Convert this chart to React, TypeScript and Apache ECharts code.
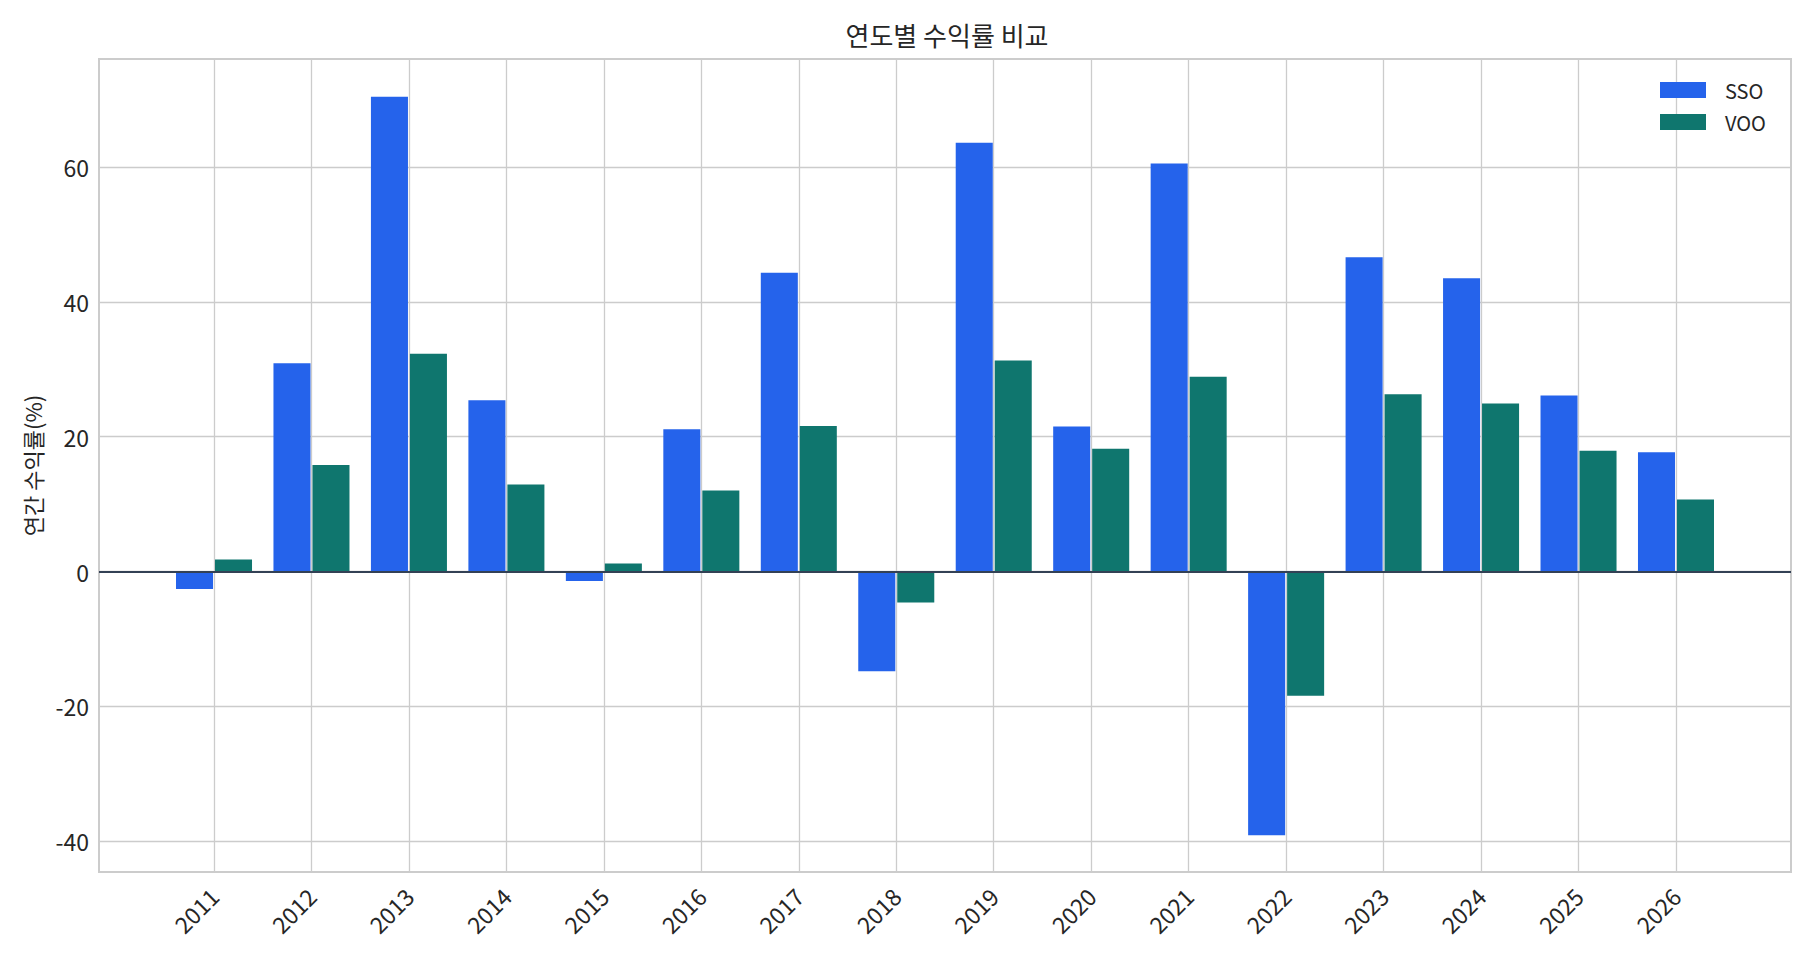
import React, { useEffect, useRef } from "react";
import * as echarts from "echarts";

const years = [2011, 2012, 2013, 2014, 2015, 2016, 2017, 2018, 2019, 2020, 2021, 2022, 2023, 2024, 2025, 2026];
const ssoReturns = [-2.6, 30.9, 70.4, 25.4, -1.4, 21.1, 44.3, -14.8, 63.6, 21.5, 60.5, -39.1, 46.6, 43.5, 26.1, 17.7];
const vooReturns = [1.8, 15.8, 32.3, 12.9, 1.2, 12.0, 21.6, -4.6, 31.3, 18.2, 28.9, -18.4, 26.3, 24.9, 17.9, 10.7];
const yTicks = [-40, -20, 0, 20, 40, 60];

const FONT = "'Noto Sans CJK KR', 'Noto Sans', sans-serif";
const BAR_W = 0.38;
const SSO_COLOR = "#2563eb";
const VOO_COLOR = "#0f766e";

function barSeries(name: string, values: number[], offset: number, color: string) {
  return {
    name,
    type: "custom",
    coordinateSystem: "cartesian2d",
    encode: { x: 0, y: 1 },
    itemStyle: { color },
    data: years.map((y, i) => [y + offset, values[i]]),
    renderItem: (_params: any, api: any) => {
      const cx = api.value(0);
      const v = api.value(1);
      const a = api.coord([cx - BAR_W / 2, v]);
      const b = api.coord([cx + BAR_W / 2, 0]);
      return {
        type: "rect",
        shape: {
          x: a[0],
          y: Math.min(a[1], b[1]),
          width: b[0] - a[0],
          height: Math.abs(b[1] - a[1]),
        },
        style: { fill: color },
      };
    },
  };
}

export default function App() {
  const ref = useRef<HTMLDivElement>(null);
  useEffect(() => {
    if (!ref.current) return;
    const chart = echarts.init(ref.current, null, { renderer: "svg" });
    chart.setOption({
      animation: false,
      backgroundColor: "#ffffff",
      title: {
        text: "연도별 수익률 비교",
        left: 942,
        textAlign: "center",
        top: 16,
        textStyle: { fontFamily: FONT, fontSize: 26, fontWeight: "normal", color: "#262626" },
      },
      legend: {
        orient: "vertical",
        left: 1655,
        top: 75,
        itemWidth: 46,
        itemHeight: 16,
        itemGap: 12,
        icon: "rect",
        data: ["SSO", "VOO"],
        textStyle: { fontFamily: FONT, fontSize: 20, color: "#262626", padding: [0, 0, 0, 14] },
      },
      grid: {
        left: 99,
        top: 59,
        right: 24,
        bottom: 85,
        show: true,
        borderColor: "#cccccc",
        borderWidth: 2,
        backgroundColor: "transparent",
      },
      xAxis: {
        type: "value",
        min: 2009.82,
        max: 2027.18,
        axisLine: { show: false },
        axisTick: { show: false, customValues: years },
        axisLabel: {
          customValues: years,
          rotate: 45,
          margin: 20,
          fontFamily: FONT,
          fontSize: 23,
          color: "#262626",
          formatter: (v: number) => String(v),
        },
        splitLine: { show: true, lineStyle: { color: "#cccccc", width: 1.3 } },
      },
      yAxis: {
        type: "value",
        min: -44.55,
        max: 76.0,
        name: "연간 수익률(%)",
        nameLocation: "middle",
        nameGap: 56,
        nameTextStyle: { fontFamily: FONT, fontSize: 22, color: "#262626" },
        axisLine: { show: false },
        axisTick: { show: false, customValues: yTicks },
        axisLabel: {
          customValues: yTicks,
          margin: 10,
          fontFamily: FONT,
          fontSize: 23,
          color: "#262626",
        },
        splitLine: { show: true, lineStyle: { color: "#cccccc", width: 1.3 } },
      },
      series: [
        barSeries("SSO", ssoReturns, -0.2, SSO_COLOR),
        {
          ...barSeries("VOO", vooReturns, 0.2, VOO_COLOR),
          markLine: {
            silent: true,
            symbol: "none",
            label: { show: false },
            lineStyle: { color: "#334155", width: 2, type: "solid" },
            data: [{ yAxis: 0 }],
            z: 10,
          },
        },
      ],
    });
    return () => chart.dispose();
  }, []);
  return <div ref={ref} style={{ position: "fixed", left: 0, top: 0, width: 1815, height: 957 }} />;
}
